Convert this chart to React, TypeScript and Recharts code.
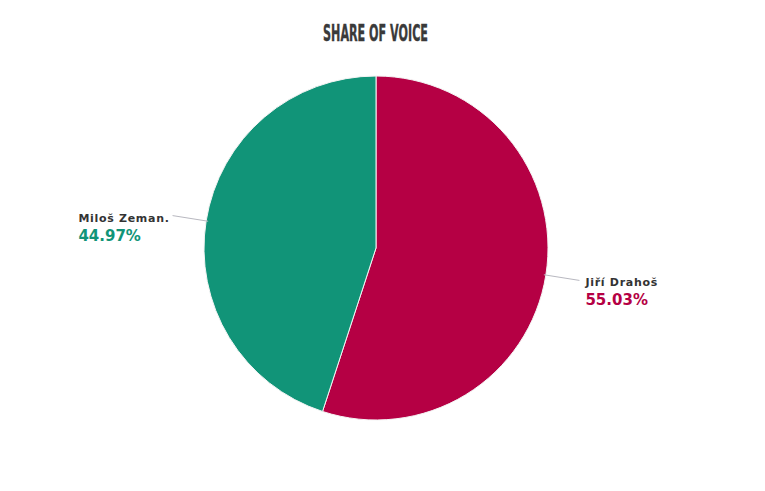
import { PieChart, Pie, Cell } from "recharts";

const names = ["Jiří Drahoš", "Miloš Zeman."];
const shares = [55.03, 44.97];
const colors = ["#B50044", "#119478"];

const data = names.map((name, i) => ({ name, value: shares[i] }));

const RADIAN = Math.PI / 180;
const NAME_FONT = "bold 11px 'DejaVu Sans'";
const NAME_SPACING = 0.7;

function textWidth(s: string): number {
  const ctx = document.createElement("canvas").getContext("2d");
  if (!ctx) return s.length * 7.5;
  ctx.font = NAME_FONT;
  return ctx.measureText(s).width + NAME_SPACING * s.length;
}

// eslint-disable-next-line @typescript-eslint/no-explicit-any
function renderLabel(props: any) {
  const { cx, cy, midAngle, outerRadius, index } = props;
  const cos = Math.cos(-midAngle * RADIAN);
  const sin = Math.sin(-midAngle * RADIAN);
  const sx = cx + (outerRadius - 2) * cos;
  const sy = cy + (outerRadius - 2) * sin;
  const ex = cx + (outerRadius + 34) * cos;
  const ey = cy + (outerRadius + 34) * sin;
  const right = cos >= 0;
  const name = names[index];
  const tx = right ? ex + 6 : ex - 3 - textWidth(name);
  return (
    <g key={`lbl-${index}`}>
      <line x1={sx} y1={sy} x2={ex} y2={ey} stroke="#b8b8c0" strokeWidth={1} />
      <text
        x={tx}
        y={ey + 6}
        fill="#333"
        fontFamily="DejaVu Sans"
        fontWeight="bold"
        fontSize={11}
        letterSpacing={NAME_SPACING}
        textAnchor="start"
      >
        {name}
      </text>
      <text
        x={tx}
        y={ey + 25}
        fill={colors[index]}
        fontFamily="DejaVu Sans"
        fontWeight="bold"
        fontSize={15}
        textAnchor="start"
      >
        {shares[index].toFixed(2)}%
      </text>
    </g>
  );
}

export default function App() {
  return (
    <div
      style={{
        position: "absolute",
        left: 0,
        top: 0,
        width: 765,
        height: 491,
        background: "#fff",
      }}
    >
      <svg
        width={765}
        height={60}
        style={{ position: "absolute", left: 0, top: 0, pointerEvents: "none" }}
      >
        <text
          x={323}
          y={41}
          fill="#3a3a3a"
          stroke="#3a3a3a"
          strokeWidth={0.4}
          fontFamily="'Liberation Sans Narrow', 'DejaVu Sans Condensed', sans-serif"
          fontWeight="bold"
          fontSize={23}
          textLength={105}
          lengthAdjust="spacingAndGlyphs"
        >
          SHARE OF VOICE
        </text>
      </svg>
      <PieChart width={765} height={491} margin={{ top: 0, right: 0, bottom: 0, left: 0 }}>
        <Pie
          data={data}
          dataKey="value"
          nameKey="name"
          cx={376}
          cy={248}
          outerRadius={172}
          startAngle={90}
          endAngle={-270}
          stroke="#f4f4f4"
          strokeWidth={1}
          label={renderLabel}
          labelLine={false}
          isAnimationActive={false}
        >
          {data.map((d, i) => (
            <Cell key={d.name} fill={colors[i]} />
          ))}
        </Pie>
      </PieChart>
    </div>
  );
}
